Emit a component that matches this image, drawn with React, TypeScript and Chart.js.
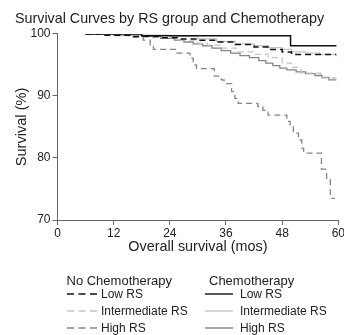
import React, { useEffect, useRef } from "react";
import { Chart, registerables } from "chart.js";

Chart.register(...registerables);

const FONT = '"Liberation Sans", Arial, Helvetica, sans-serif';

// Kaplan–Meier steps: month of each step and survival (%) from that month on.
const lowChemoMonths = [6, 18, 49.8, 59.6];
const lowChemoSurv = [100, 99.7, 98.1, 98.1];

const lowNoChemoMonths = [6, 10, 16, 22, 26, 30, 34, 38, 42, 45, 48, 50, 59.5];
const lowNoChemoSurv = [100, 99.8, 99.6, 99.4, 99.2, 99.0, 98.7, 98.3, 97.9, 97.5, 97.1, 96.7, 96.7];

const intChemoMonths = [6, 12, 18, 24, 30, 34, 38, 42, 45, 48, 50, 53, 56, 59.6];
const intChemoSurv = [100, 99.9, 99.8, 99.6, 99.2, 98.8, 98.4, 98.1, 97.8, 97.5, 97.1, 96.9, 96.7, 96.4];

const intNoChemoMonths = [6, 12, 20, 26, 30, 32, 35, 38.6, 42, 45, 48, 50, 52, 56.2, 59.6];
const intNoChemoSurv = [100, 99.7, 99.4, 99.0, 98.5, 98.2, 97.7, 97.1, 96.7, 96.2, 95.3, 94.6, 93.7, 92.9, 92.9];

const highChemoMonths = [6, 12, 18, 22, 25, 27, 29, 31, 33, 35, 37, 39, 41, 43, 44.5, 46, 47.5, 49, 51, 53, 55, 56.5, 58, 59.6];
const highChemoSurv = [100, 99.8, 99.6, 99.3, 99.0, 98.7, 98.4, 98.1, 97.7, 97.3, 96.9, 96.5, 96.2, 95.7, 95.3, 94.9, 94.5, 94.2, 93.9, 93.6, 93.3, 93.0, 92.6, 92.6];

const highNoChemoMonths = [6, 12, 16, 18.3, 19.8, 20.5, 25.2, 28.3, 29.0, 29.7, 33.5, 35.0, 35.6, 37.2, 37.9, 38.6, 42.8, 43.9, 45.0, 49.0, 49.7, 50.4, 51.5, 52.2, 52.6, 56.4, 57.5, 58.3, 59.3];
const highNoChemoSurv = [100, 99.8, 99.5, 99.0, 98.0, 97.5, 96.9, 96.1, 95.0, 94.4, 93.2, 92.6, 92.0, 90.7, 89.6, 88.8, 88.3, 87.7, 86.9, 85.9, 85.3, 84.0, 82.9, 81.6, 80.8, 78.2, 76.5, 73.5, 73.5];

const groupNames = ["Low RS", "Intermediate RS", "High RS"];
const armNames = ["No Chemotherapy", "Chemotherapy"];

const LOW = "#111111";
const INT = "#c4c4c4";
const HIGH = "#858585";
const DASH = [6, 4];

const pts = (m: number[], s: number[]) => m.map((x, i) => ({ x, y: s[i] }));

const series = [
  { label: "Chemotherapy, Low RS", data: pts(lowChemoMonths, lowChemoSurv), color: LOW, dash: [] as number[], width: 1.5 },
  { label: "No Chemotherapy, Low RS", data: pts(lowNoChemoMonths, lowNoChemoSurv), color: LOW, dash: DASH, width: 1.5 },
  { label: "Chemotherapy, Intermediate RS", data: pts(intChemoMonths, intChemoSurv), color: INT, dash: [] as number[], width: 1.3 },
  { label: "No Chemotherapy, Intermediate RS", data: pts(intNoChemoMonths, intNoChemoSurv), color: INT, dash: DASH, width: 1.3 },
  { label: "Chemotherapy, High RS", data: pts(highChemoMonths, highChemoSurv), color: HIGH, dash: [] as number[], width: 1.3 },
  { label: "No Chemotherapy, High RS", data: pts(highNoChemoMonths, highNoChemoSurv), color: HIGH, dash: DASH, width: 1.3 },
];

const legendColors = [LOW, INT, HIGH];

function LegendLine({ color, dashed, width }: { color: string; dashed: boolean; width: number }) {
  return (
    <svg width={width} height={4} style={{ display: "block" }}>
      <line
        x1={0}
        y1={2}
        x2={width}
        y2={2}
        stroke={color}
        strokeWidth={1.4}
        strokeDasharray={dashed ? "7 4.5" : undefined}
      />
    </svg>
  );
}

export default function App() {
  const canvasRef = useRef<HTMLCanvasElement>(null);

  useEffect(() => {
    const canvas = canvasRef.current;
    if (!canvas) return;
    const chart = new Chart(canvas, {
      type: "line",
      data: {
        datasets: series.map((s) => ({
          label: s.label,
          data: s.data,
          borderColor: s.color,
          backgroundColor: s.color,
          borderWidth: s.width,
          borderDash: s.dash,
          pointRadius: 0,
          stepped: "before" as const,
          fill: false,
        })),
      },
      options: {
        responsive: false,
        animation: false,
        devicePixelRatio: 1,
        layout: { padding: { left: 15, right: 21.7, top: 0, bottom: 79.4 } },
        plugins: {
          legend: { display: false },
          tooltip: { enabled: false },
          title: {
            display: true,
            text: "Survival Curves by RS group and Chemotherapy",
            align: "start",
            color: "#222",
            font: { family: FONT, size: 14.3, weight: "normal", lineHeight: 1.2 },
            padding: { top: 10.9, bottom: 5.9 },
          },
        },
        scales: {
          x: {
            type: "linear",
            min: 0,
            max: 60,
            ticks: { stepSize: 12, color: "#222", font: { family: FONT, size: 12 }, padding: 1, maxRotation: 0 },
            grid: { display: true, drawOnChartArea: false, drawTicks: true, tickLength: 5, color: "#666" },
            border: { display: true, color: "#666", width: 1 },
            title: {
              display: true,
              text: "Overall survival (mos)",
              color: "#222",
              font: { family: FONT, size: 14.4, lineHeight: 1.2 },
              padding: { top: 0, bottom: 0 },
            },
            afterFit: (scale: any) => {
              scale.height = 35.6;
            },
          },
          y: {
            type: "linear",
            min: 70,
            max: 100,
            ticks: { stepSize: 10, color: "#222", font: { family: FONT, size: 12 }, padding: 2 },
            grid: { display: true, drawOnChartArea: false, drawTicks: true, tickLength: 5, color: "#666" },
            border: { display: true, color: "#666", width: 1 },
            title: {
              display: true,
              text: "Survival (%)",
              color: "#222",
              font: { family: FONT, size: 14.6, lineHeight: 1 },
              padding: { top: 0, bottom: 0 },
            },
            afterFit: (scale: any) => {
              scale.width = 42.5;
            },
          },
        },
      },
    });
    return () => chart.destroy();
  }, []);

  const columns = [
    { x: 66.5, lineW: 30, textX: 101, dashed: true },
    { x: 209, lineW: 28, lineX: 205, textX: 240, dashed: false },
  ];
  const rowY = [294, 311, 328];
  const headerY = 280;

  return (
    <div
      style={{
        position: "absolute",
        left: 0,
        top: 0,
        width: 344,
        height: 335,
        overflow: "hidden",
        background: "#fff",
        fontFamily: FONT,
        color: "#222",
      }}
    >
      <canvas ref={canvasRef} width={360} height={335} style={{ display: "block", width: 360, height: 335 }} />
      {columns.map((c, ci) => (
        <React.Fragment key={ci}>
          <div
            style={{
              position: "absolute",
              left: c.x,
              top: headerY - 6.5,
              fontSize: 13,
              lineHeight: "13px",
              whiteSpace: "nowrap",
            }}
          >
            {armNames[ci]}
          </div>
          {groupNames.map((g, gi) => (
            <React.Fragment key={gi}>
              <div style={{ position: "absolute", left: (c as any).lineX ?? c.x, top: rowY[gi] - 2 }}>
                <LegendLine color={legendColors[gi]} dashed={c.dashed} width={c.lineW} />
              </div>
              <div
                style={{
                  position: "absolute",
                  left: c.textX,
                  top: rowY[gi] - 6,
                  fontSize: 12,
                  lineHeight: "12px",
                  whiteSpace: "nowrap",
                }}
              >
                {g}
              </div>
            </React.Fragment>
          ))}
        </React.Fragment>
      ))}
    </div>
  );
}
